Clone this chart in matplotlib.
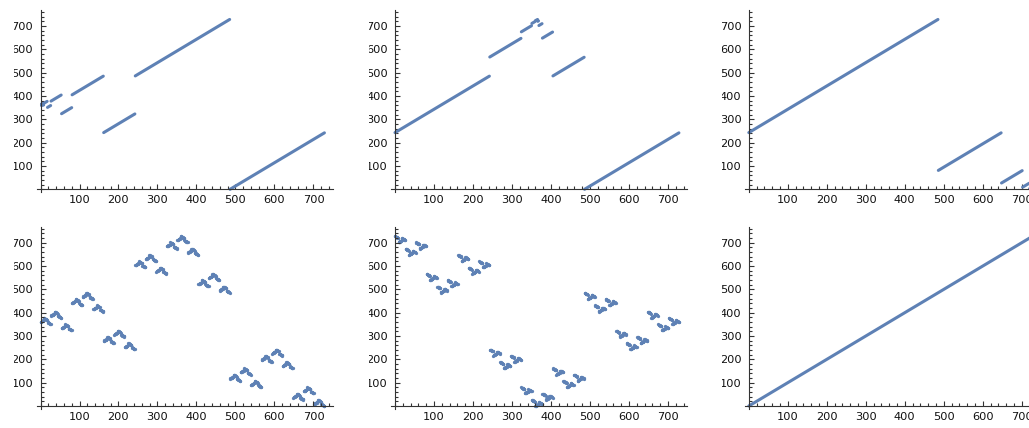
import matplotlib.pyplot as plt
import numpy as np
from matplotlib.ticker import MultipleLocator, FixedLocator
from matplotlib.transforms import Bbox, TransformedBbox

BLUE = '#5e81b5'
W, H = 1029, 428

# top row: runs of slope 1 -> start x, end x, start y
tl_x0 = [0, 1, 2, 3, 6, 9, 18, 27, 54, 81, 162, 243, 486]
tl_x1 = [0, 1, 2, 5, 8, 17, 26, 53, 80, 161, 242, 485, 728]
tl_y0 = [364, 365, 363, 366, 360, 369, 351, 378, 324, 405, 243, 486, 0]

tm_x0 = [0, 243, 324, 351, 360, 363, 364, 365, 366, 369, 378, 405, 486]
tm_x1 = [242, 323, 350, 359, 362, 363, 364, 365, 368, 377, 404, 485, 728]
tm_y0 = [243, 567, 675, 711, 723, 727, 728, 726, 720, 702, 648, 486, 0]

tr_x0 = [0, 486, 648, 702, 720, 726, 728]
tr_x1 = [485, 647, 701, 719, 725, 727, 728]
tr_y0 = [243, 81, 27, 9, 3, 1, 0]

br_x0 = [0]
br_x1 = [728]
br_y0 = [0]

# bottom row: 27 clusters of 27 points, cluster base y + shape inside cluster
bl_block_y = [351, 378, 324, 432, 459, 405, 270, 297, 243,
              594, 621, 567, 675, 702, 648, 513, 540, 486,
              108, 135, 81, 189, 216, 162, 27, 54, 0]
bl_motif = [9, 10, 11, 12, 13, 14, 15, 16, 17,
            26, 25, 24, 23, 22, 21, 20, 19, 18,
            8, 7, 6, 5, 4, 3, 2, 1, 0]

bm_block_y = [702, 648, 675, 540, 486, 513, 621, 567, 594,
              216, 162, 189, 54, 0, 27, 135, 81, 108,
              459, 405, 432, 297, 243, 270, 378, 324, 351]
bm_motif = [26, 25, 24, 23, 22, 21, 20, 19, 18,
            0, 1, 2, 3, 4, 5, 6, 7, 8,
            17, 16, 15, 14, 13, 12, 11, 10, 9]

# pixel origins of each panel (x of y-axis, y of x-axis from top)
origins = [(40.5, 189.3), (395, 189.3), (748.8, 189.3),
           (40.5, 406), (395, 406), (748.8, 406)]
# the source image crops the y labels a little on the left
clip_left = [14.2, 369.2, 721.8, 14.2, 369.2, 721.8]

XMIN, XMAX = -10, 749
YMIN, YMAX = -13, 767
SX, SY = 0.39, 0.2333

fig = plt.figure(figsize=(W / 100, H / 100), dpi=100)
plt.rcParams['font.family'] = 'DejaVu Sans'


def make_axes(i):
    ox, oy = origins[i]
    left = ox + XMIN * SX
    top = oy - YMAX * SY
    w = (XMAX - XMIN) * SX
    h = (YMAX - YMIN) * SY
    ax = fig.add_axes([left / W, 1 - (top + h) / H, w / W, h / H])
    ax.set_xlim(XMIN, XMAX)
    ax.set_ylim(YMIN, YMAX)
    for s in ['top', 'right']:
        ax.spines[s].set_visible(False)
    for s in ['left', 'bottom']:
        ax.spines[s].set_position(('data', 0))
        ax.spines[s].set_color('#333333')
        ax.spines[s].set_linewidth(0.8)
    ax.xaxis.set_major_locator(FixedLocator([100, 200, 300, 400, 500, 600, 700]))
    ax.yaxis.set_major_locator(FixedLocator([100, 200, 300, 400, 500, 600, 700]))
    ax.xaxis.set_minor_locator(MultipleLocator(20))
    ax.yaxis.set_minor_locator(MultipleLocator(20))
    ax.tick_params(which='both', direction='in', color='#333333', width=0.8,
                   labelsize=8.2, labelcolor='#111111')
    ax.tick_params(which='major', length=3.3)
    ax.tick_params(axis='y', which='major', pad=5.2)
    ax.tick_params(axis='x', which='major', pad=4)
    ax.tick_params(which='minor', length=1.9)
    ax.patch.set_visible(False)
    return ax


def clip_labels(ax, i):
    clip = TransformedBbox(Bbox([[clip_left[i] / W, 0], [1, 1]]), fig.transFigure)
    for t in ax.yaxis.get_major_ticks():
        t.label1.set_clip_box(clip)
        t.label1.set_clip_on(True)


def draw_runs(ax, x0, x1, y0):
    for a, b, c in zip(x0, x1, y0):
        if a == b:
            ax.plot([a], [c], 'o', color=BLUE, ms=2.2, mew=0)
        else:
            ax.plot([a, b], [c, c + b - a], color=BLUE, lw=2.2,
                    solid_capstyle='round')


def draw_clusters(ax, block_y, motif):
    n = len(motif)
    xs = np.arange(len(block_y) * n)
    ys = np.concatenate([np.array(motif) + by for by in block_y])
    ax.scatter(xs, ys, s=5.5, color=BLUE, linewidths=0)


axes = [make_axes(i) for i in range(6)]
draw_runs(axes[0], tl_x0, tl_x1, tl_y0)
draw_runs(axes[1], tm_x0, tm_x1, tm_y0)
draw_runs(axes[2], tr_x0, tr_x1, tr_y0)
draw_clusters(axes[3], bl_block_y, bl_motif)
draw_clusters(axes[4], bm_block_y, bm_motif)
draw_runs(axes[5], br_x0, br_x1, br_y0)

fig.canvas.draw()
for i, ax in enumerate(axes):
    clip_labels(ax, i)

fig.savefig('out.png', dpi=100)
